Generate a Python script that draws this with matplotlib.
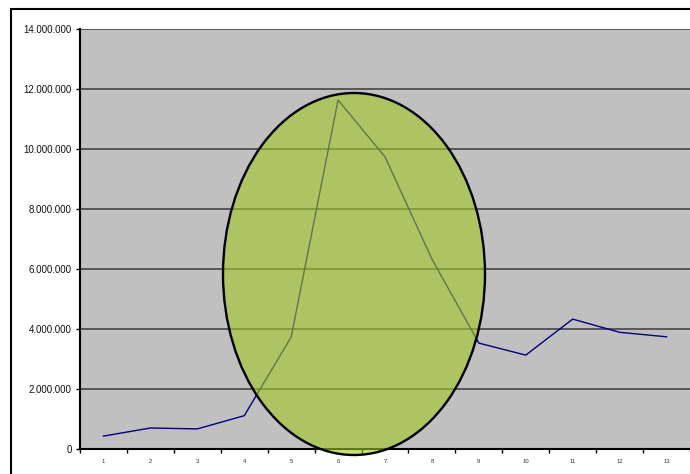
#!/usr/bin/env python3
"""Monthly totals line chart with a highlighted peak region."""

import matplotlib

matplotlib.use("Agg")
import matplotlib.pyplot as plt
from matplotlib.patches import Ellipse, Rectangle
from matplotlib.ticker import FuncFormatter, MultipleLocator

periods = list(range(1, 14))
totals = [430000, 700000, 670000, 1110000, 3730000, 11630000, 9740000,
          6330000, 3530000, 3130000, 4330000, 3890000, 3740000]

W, H = 690, 474


def dotted_thousands(v, _pos):
    return f"{int(round(v)):,}".replace(",", ".")


def main() -> int:
    plt.rcParams["font.family"] = ["Liberation Sans", "DejaVu Sans"]

    fig = plt.figure(figsize=(W / 100, H / 100), dpi=100)
    fig.patch.set_facecolor("white")

    # outer chart frame, runs off the right and bottom edges
    fig.patches.append(Rectangle((11 / W, -0.2), 1.2, 1.2 - 9 / H,
                                 transform=fig.transFigure, fill=False,
                                 edgecolor="black", linewidth=1.5, zorder=0))

    ax = fig.add_axes([80 / W, (H - 449) / H, 610 / W, 420 / H])
    ax.set_facecolor("#c0c0c0")

    ax.plot(periods, totals, color="#000080", linewidth=1.0, zorder=3)

    ax.set_xlim(0.5, 13.5)
    ax.set_ylim(0, 14000000)

    ax.yaxis.set_major_locator(MultipleLocator(2000000))
    ax.yaxis.set_major_formatter(FuncFormatter(dotted_thousands))
    ax.grid(axis="y", color="#3a3a3a", linewidth=1.1, zorder=1)
    ax.set_axisbelow(True)

    ax.set_xticks(periods)
    ax.set_xticklabels([str(p) for p in periods])
    ax.set_xticks([p + 0.5 for p in range(0, 14)], minor=True)
    ax.tick_params(axis="x", which="major", length=0, pad=7.5, labelsize=4.2,
                   labelcolor="#333333")
    ax.tick_params(axis="x", which="minor", length=3, width=1, direction="out")
    ax.tick_params(axis="y", length=3, width=1, direction="out", pad=3,
                   labelsize=7, labelcolor="#111111")

    for side in ("top", "right"):
        ax.spines[side].set_visible(False)
    for side in ("left", "bottom"):
        ax.spines[side].set_linewidth(1.5)
        ax.spines[side].set_color("black")

    # translucent highlight around the peak
    hl = Ellipse((354 / W, 1 - 274 / H), 262 / W, 362 / H,
                 transform=fig.transFigure,
                 facecolor=(160 / 255, 200 / 255, 35 / 255, 0.6),
                 edgecolor="black", linewidth=1.7, zorder=5)
    hl.set_clip_on(False)
    fig.patches.append(hl)

    fig.savefig("out.png", dpi=100)
    return 0


if __name__ == "__main__":
    raise SystemExit(main())
